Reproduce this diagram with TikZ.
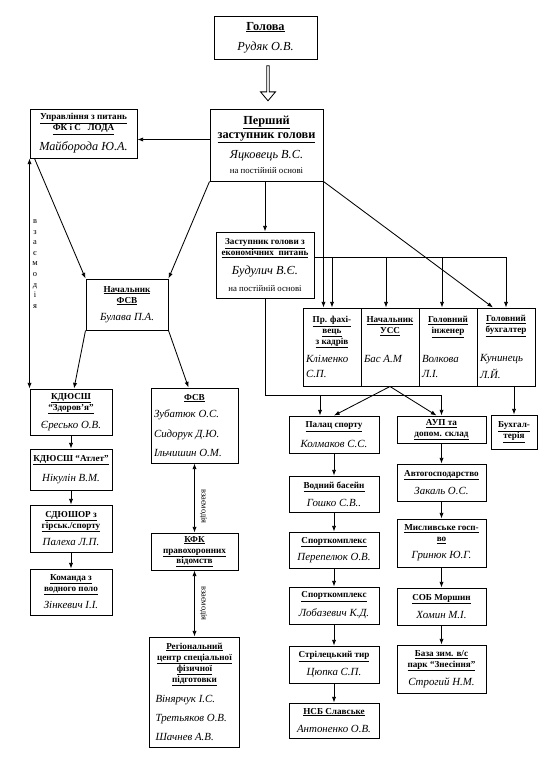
\documentclass[tikz,border=0pt]{standalone}
\usepackage{fontspec}
\setmainfont{Liberation Serif}
\usetikzlibrary{arrows.meta,shapes.arrows}
\pgfdeclarelayer{edgelayer}
\pgfdeclarelayer{nodelayer}
\pgfsetlayers{edgelayer,nodelayer,main}
\newcommand{\hdr}[1]{\textbf{\underline{#1}}}
\newcommand{\nme}[1]{{\fontsize{15.5}{15.5}\selectfont\itshape #1}}
\newcommand{\bnme}[1]{{\fontsize{17.5}{17.5}\selectfont\itshape #1}}
\newcommand{\smtxt}[1]{{\fontsize{12.5}{14}\selectfont #1}}
\newcommand{\lname}[2][2.6cm]{\makebox[#1][l]{#2}}
\tikzstyle{none}=[inner sep=0pt]
\tikzstyle{box}=[draw,rectangle,inner sep=0pt,align=center,line width=1.4pt,font=\fontsize{13}{15.5}\selectfont]
\tikzstyle{bigbox}=[style=box,font=\fontsize{17.5}{20}\selectfont]
\tikzstyle{hollow}=[draw,single arrow,rotate=-90,inner sep=0pt,line width=1.2pt,minimum height=1.75cm,minimum width=0.75cm,single arrow head extend=0.1cm,single arrow tip angle=80]
\tikzstyle{arr}=[line width=1.2pt,-{Latex[length=8pt,width=6pt]}]
\tikzstyle{dbl}=[line width=1.2pt,{Latex[length=8pt,width=6pt]}-{Latex[length=8pt,width=6pt]}]
\tikzstyle{lbl}=[inner sep=0pt,xshift=0.45cm,rotate=-90,font=\fontsize{12}{12}\selectfont]
\begin{document}
\begin{tikzpicture}
	\useasboundingbox (0,0) rectangle (27.95,-38.4);
	\begin{pgfonlayer}{nodelayer}
		\node [style=bigbox, minimum width=5.15cm, minimum height=2.15cm] (0) at (13.275, -1.875) {\hdr{Голова}\\[8pt]\bnme{Рудяк О.В.}};
		\node [style=bigbox, minimum width=5.65cm, minimum height=3.6cm] (1) at (13.325, -7.25) {\hdr{Перший}\\\hdr{заступник голови}\\[8pt]\bnme{Яцковець В.С.}\\[1pt]\smtxt{на постійній основі}};
		\node [style=box, minimum width=5.35cm, minimum height=2.45cm] (2) at (4.175, -6.675) {\hdr{Управління з питань}\\\hdr{ФК і С\ \ \ ЛОДА}\\[10pt]\bnme{Майборода Ю.А.}};
		\node [style=box, minimum width=4.1cm, minimum height=2.55cm] (3) at (6.35, -15.225) {\hdr{Начальник}\\\hdr{ФСВ}\\[8.5pt]\nme{Булава П.А.}};
		\node [style=box, minimum width=4.9cm, minimum height=3.3cm] (4) at (13.25, -13.25) {\hdr{Заступник голови з}\\\hdr{економічних\ \ питань}\\[11pt]\bnme{Будулич В.Є.}\\[8pt]\smtxt{на постійній основі}};
		\node [style=box, minimum width=2.9cm, minimum height=3.9cm] (5) at (16.6, -17.35) {\hdr{Пр. фахі-}\\\hdr{вець}\\\hdr{з кадрів}\\[10pt]\lname{\nme{Кліменко}}\\[5.5pt]\lname{\nme{С.П.}}};
		\node [style=box, minimum width=2.9cm, minimum height=3.9cm] (6) at (19.5, -17.35) {\hdr{Начальник}\\\hdr{УСС}\\\mbox{}\\[10pt]\lname{\nme{Бас А.М}}\\[5.5pt]\mbox{}};
		\node [style=box, minimum width=2.9cm, minimum height=3.9cm] (7) at (22.4, -17.35) {\hdr{Головний}\\\hdr{інженер}\\\mbox{}\\[10pt]\lname{\nme{Волкова}}\\[5.5pt]\lname{\nme{Л.І.}}};
		\node [style=box, minimum width=2.9cm, minimum height=3.9cm] (8) at (25.3, -17.35) {\hdr{Головний}\\\hdr{бухгалтер}\\\mbox{}\\[10pt]\lname{\nme{Кунинець}}\\[5.5pt]\lname{\nme{Л.Й.}}};
		\node [style=box, minimum width=4.1cm, minimum height=2.3cm] (9) at (3.55, -20.6) {\hdr{КДЮСШ}\\\hdr{“Здоров’я”}\\[10pt]\nme{Єресько О.В.}};
		\node [style=box, minimum width=4.1cm, minimum height=2.05cm] (10) at (3.55, -23.475) {\hdr{КДЮСШ “Атлет”}\\[12pt]\nme{Нікулін В.М.}};
		\node [style=box, minimum width=4.1cm, minimum height=2.35cm] (11) at (3.55, -26.425) {\hdr{СДЮШОР з}\\\hdr{гірськ./спорту}\\[9pt]\nme{Палеха Л.П.}};
		\node [style=box, minimum width=4.1cm, minimum height=2.3cm] (12) at (3.55, -29.6) {\hdr{Команда з}\\\hdr{водного поло}\\[9pt]\nme{Зінкевич І.І.}};
		\node [style=box, minimum width=4.35cm, minimum height=3.75cm] (13) at (9.725, -21.275) {\hdr{ФСВ}\\[9pt]\lname[4.05cm]{\nme{Зубатюк О.С.}}\\[12pt]\lname[4.05cm]{\nme{Сидорук Д.Ю.}}\\[12pt]\lname[4.05cm]{\nme{Ільчишин О.М.}}};
		\node [style=box, minimum width=4.35cm, minimum height=1.85cm] (14) at (9.725, -27.575) {\hdr{КФК}\\\hdr{правохоронних}\\\hdr{відомств}};
		\node [style=box, minimum width=4.5cm, minimum height=5.5cm] (15) at (9.725, -34.6) {\hdr{Регіональний}\\\hdr{центр спеціальної}\\\hdr{фізичної}\\\hdr{підготовки}\\[13pt]\lname[3.9cm]{\nme{Вінярчук І.С.}}\\[12pt]\lname[3.9cm]{\nme{Третьяков О.В.}}\\[12pt]\lname[3.9cm]{\nme{Шачнев А.В.}}};
		\node [style=box, minimum width=4.5cm, minimum height=1.85cm] (16) at (16.7, -21.725) {\hdr{Палац спорту}\\[12pt]\nme{Колмаков С.С.}};
		\node [style=box, minimum width=4.5cm, minimum height=1.8cm] (17) at (16.7, -24.7) {\hdr{Водний басейн}\\[10pt]\nme{Гошко С.В..}};
		\node [style=box, minimum width=4.5cm, minimum height=1.8cm] (18) at (16.7, -27.5) {\hdr{Спорткомплекс}\\[9pt]\nme{Перепелюк О.В.}};
		\node [style=box, minimum width=4.5cm, minimum height=1.85cm] (19) at (16.7, -30.275) {\hdr{Спорткомплекс}\\[10pt]\nme{Лобазевич К.Д.}};
		\node [style=box, minimum width=4.5cm, minimum height=1.85cm] (20) at (16.7, -33.225) {\hdr{Стрілецький тир}\\[9pt]\nme{Цюпка С.П.}};
		\node [style=box, minimum width=4.5cm, minimum height=1.75cm] (21) at (16.7, -36.025) {\hdr{НСБ Славське}\\[10pt]\nme{Антоненко О.В.}};
		\node [style=box, minimum width=4.45cm, minimum height=1.35cm] (22) at (22.075, -21.475) {\hdr{АУП та}\\\hdr{допом. склад}};
		\node [style=box, minimum width=4.45cm, minimum height=1.85cm] (23) at (22.075, -24.125) {\hdr{Автогосподарство}\\[11pt]\nme{Закаль О.С.}};
		\node [style=box, minimum width=4.45cm, minimum height=2.4cm] (24) at (22.075, -27.15) {\hdr{Мисливське госп-}\\\hdr{во}\\[9pt]\nme{Гринюк Ю.Г.}};
		\node [style=box, minimum width=4.45cm, minimum height=1.85cm] (25) at (22.075, -30.325) {\hdr{СОБ Моршин}\\[11pt]\nme{Хомин М.І.}};
		\node [style=box, minimum width=4.45cm, minimum height=2.4cm] (26) at (22.075, -33.45) {\hdr{База зим. в/с}\\\hdr{парк “Знесіння”}\\[8pt]\nme{Строгий Н.М.}};
		\node [style=box, minimum width=2.3cm, minimum height=1.7cm] (27) at (25.7, -21.6) {\hdr{Бухгал-}\\\hdr{терія}};
		\coordinate (28) at (13.25, -19.75);
		\node [style=none, align=center, font=\fontsize{12}{15}\selectfont] (29) at (1.75, -13.2) {в\\з\\а\\є\\м\\о\\д\\і\\я};
		\node [style=hollow] (30) at (13.4, -4.125) {};
	\end{pgfonlayer}
	\begin{pgfonlayer}{edgelayer}
		\draw [style=arr] ([yshift=-0.3cm]2.east -| 1.west) to ([yshift=-0.3cm]2.east);
		\draw [style=dbl] (2.south west) to (9.north west);
		\draw [style=arr] ([xshift=0.25cm]2.south west) to (3.north west);
		\draw [style=arr] (1.south west) to (3.north east);
		\draw [style=arr] (1.south -| 4.north) to (4.north);
		\draw [style=arr] (1.south east) to (1.south east |- 5.north);
		\draw [style=arr] (1.south east) to ([xshift=-0.65cm]8.north);
		\draw [line width=1.2pt] ([yshift=0.4cm]4.east) to ([yshift=0.4cm]4.east -| 8.north);
		\draw [style=arr] ([yshift=0.4cm]4.east -| 5.north) to (5.north);
		\draw [style=arr] ([yshift=0.4cm,xshift=-0.2cm]4.east -| 6.north) to ([xshift=-0.2cm]6.north);
		\draw [style=arr] ([yshift=0.4cm,xshift=-0.3cm]4.east -| 7.north) to ([xshift=-0.3cm]7.north);
		\draw [style=arr] ([yshift=0.4cm]4.east -| 8.north) to (8.north);
		\draw [line width=1.2pt] (4.south) to (28);
		\draw [style=arr] (28) -| (22.north);
		\draw [style=arr] ([xshift=-0.7cm]28 -| 16.north) to ([xshift=-0.7cm]16.north);
		\draw [style=arr] (6.south) to (16.north);
		\draw [style=arr] (6.south) to ([xshift=-0.25cm]22.north);
		\draw [style=arr] (27.north |- 8.south) to (27.north);
		\draw [style=arr] (3.south west) to ([xshift=0.15cm]9.north);
		\draw [style=arr] (3.south east) to ([xshift=-0.3cm]13.north);
		\draw [style=arr] (9) to (10);
		\draw [style=arr] (10) to (11);
		\draw [style=arr] (11) to (12);
		\draw [style=dbl] (13) to node [style=lbl, pos=0.62] {взаємодія} (14);
		\draw [style=dbl] (14) to node [style=lbl, pos=0.5] {взаємодія} (15);
		\draw [style=arr] (16) to (17);
		\draw [style=arr] (17) to (18);
		\draw [style=arr] (18) to (19);
		\draw [style=arr] (19) to (20);
		\draw [style=arr] (20) to (21);
		\draw [style=arr] (22) to (23);
		\draw [style=arr] (23) to (24);
		\draw [style=arr] (24) to (25);
		\draw [style=arr] (25) to (26);
	\end{pgfonlayer}
\end{tikzpicture}
\end{document}
